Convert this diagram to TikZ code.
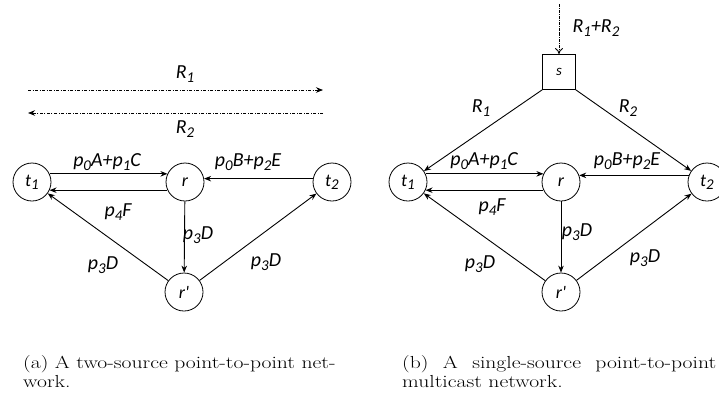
\documentclass[tikz,border=0pt]{standalone}
\usepackage{fontspec}
\usepackage{xcolor}
\newfontfamily\lblfont{Carlito}
\newfontfamily\captfont[FakeStretch=1.24]{Latin Modern Roman}
\newcommand{\sub}[1]{\raisebox{-0.35ex}{\fontsize{15}{15}\selectfont #1}}
\usetikzlibrary{shapes, arrows.meta, positioning, calc}

\tikzset{
    netnode/.style={draw, circle, line width=0.8pt, minimum size=38bp, inner sep=0pt,
        font=\lblfont\itshape\fontsize{18}{18}\selectfont},
    srcbox/.style={draw, rectangle, line width=0.8pt, minimum width=33bp, minimum height=35bp,
        inner sep=0pt, font=\lblfont\itshape\fontsize{15}{15}\selectfont},
    lbl/.style={font=\lblfont\itshape\fontsize{20}{20}\selectfont, inner sep=0pt},
    link/.style={line width=0.9pt, -{Stealth[length=7bp,width=5.5bp]}},
    flow/.style={line width=0.9pt, dash pattern=on 3bp off 1.5bp on 1bp off 1.5bp,
        -{Stealth[length=7bp,width=5.5bp]}},
    capt/.style={font=\captfont\fontsize{17.5}{19.5}\selectfont, anchor=north west, inner sep=0pt}
}

\begin{document}
\begin{tikzpicture}[x=1bp, y=-1bp]
    \useasboundingbox (0,0) rectangle (719,401);

    % (a) two-source network
    \node[netnode] (t1a) at (32,182) {t\sub{1}};
    \node[netnode] (ra) at (185,182) {r};
    \node[netnode] (t2a) at (332,182) {t\sub{2}};
    \node[netnode] (rpa) at (184,292) {r'};

    % Rates
    \coordinate (r1s) at (28,90);
    \coordinate (r1e) at (323,90);
    \coordinate (r2s) at (323,113);
    \coordinate (r2e) at (28,113);
    \draw[flow] (r1s) -- (r1e);
    \draw[flow] (r2s) -- (r2e);
    \node[lbl] (lr1a) at (185,74) {R\sub{1}};
    \node[lbl] (lr2a) at (185,129) {R\sub{2}};

    % Links
    \draw[link] (t1a.25) -- (ra.155);
    \draw[link] (ra.205) -- (t1a.-25);
    \draw[link] (t2a.170) -- (ra.10);
    \draw[link] (ra) -- (rpa);
    \draw[link] (rpa) -- (t1a);
    \draw[link] (rpa) -- (t2a);

    \node[lbl] (la1) at (107,162) {p\sub{0}A+p\sub{1}C};
    \node[lbl] (la2) at (248,162) {p\sub{0}B+p\sub{2}E};
    \node[lbl] (la3) at (118,212) {p\sub{4}F};
    \node[lbl] (la4) at (198,235) {p\sub{3}D};
    \node[lbl] (la5) at (103,265) {p\sub{3}D};
    \node[lbl] (la6) at (266,262) {p\sub{3}D};

    % (b) single-source network
    \node[srcbox] (s) at (559,72) {s};
    \node[netnode] (t1b) at (408,182) {t\sub{1}};
    \node[netnode] (rb) at (561,182) {r};
    \node[netnode] (t2b) at (707,182) {t\sub{2}};
    \node[netnode] (rpb) at (561,292) {r'};

    % Source
    \coordinate (top) at (559,4);
    \draw[line width=0.9pt, densely dashdotted, -{To[length=6bp,width=8bp]}] (top) -- (s.north);
    \node[lbl] (lsum) at (596,28) {R\sub{1}+R\sub{2}};
    \draw[link] (s.south west) -- (t1b);
    \draw[link] (s.south east) -- (t2b);
    \node[lbl] (lr1b) at (481,108) {R\sub{1}};
    \node[lbl] (lr2b) at (628,108) {R\sub{2}};

    % Links
    \draw[link] (t1b.25) -- (rb.155);
    \draw[link] (rb.205) -- (t1b.-25);
    \draw[link] (t2b.160) -- (rb.20);
    \draw[link] (rb) -- (rpb);
    \draw[link] (rpb) -- (t1b);
    \draw[link] (rpb) -- (t2b);

    \node[lbl] (lb1) at (484,161) {p\sub{0}A+p\sub{1}C};
    \node[lbl] (lb2) at (627,161) {p\sub{0}B+p\sub{2}E};
    \node[lbl] (lb3) at (492,207) {p\sub{4}F};
    \node[lbl] (lb4) at (577,232) {p\sub{3}D};
    \node[lbl] (lb5) at (480,264) {p\sub{3}D};
    \node[lbl] (lb6) at (645,258) {p\sub{3}D};

    % Captions
    \node[capt, align=left] (capa) at (23,355) {(a) A two-source point-to-point net-\\work.};
    \node[capt, text width=314bp, align=justify] (capb) at (402,355)
        {\hyphenpenalty=10000 (b)~A single-source point-to-point multicast network.};
\end{tikzpicture}
\end{document}
